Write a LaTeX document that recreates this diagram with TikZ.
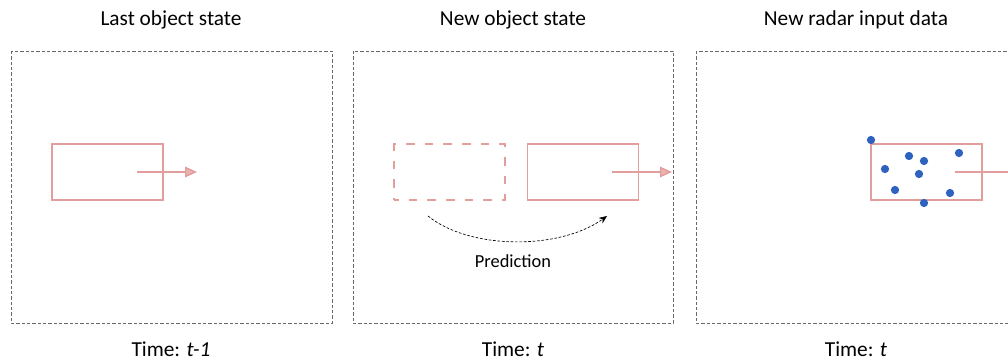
\documentclass[tikz,border=0pt]{standalone}
\usepackage{fontspec}
\setmainfont{Carlito}
\usetikzlibrary{arrows.meta,positioning}
\definecolor{BoxPink}{RGB}{226,158,156}
\definecolor{HeadPink}{RGB}{236,178,176}
\definecolor{FrameGray}{RGB}{105,105,105}
\definecolor{DotBlue}{RGB}{46,98,190}

\begin{document}
\begin{tikzpicture}[x=0.75pt,y=-0.75pt,
    frame/.style={draw=FrameGray,line width=0.6pt,dash pattern=on 2.4pt off 1.6pt},
    objbox/.style={draw=BoxPink,line width=1.1pt,inner sep=0pt,
      minimum width=83.25pt,minimum height=42pt},
    ghostbox/.style={objbox,dash pattern=on 6.5pt off 7.5pt,dash phase=3pt},
    heading/.style={font=\fontsize{16}{18}\selectfont,inner sep=0pt},
    motion/.style={draw=BoxPink,line width=1.1pt,
      -{Triangle[length=9pt,width=8pt,fill=HeadPink]}},
    radar/.style={circle,fill=DotBlue,inner sep=0pt,minimum size=6.2pt}]
  \useasboundingbox (0,0) rectangle (1008,360);
  \clip (0,0) rectangle (1008,360);

  % the three panels
  \draw[frame] (11,51) rectangle (332,323);
  \draw[frame] (353,51) rectangle (673,323);
  \draw[frame] (696,51) rectangle (1030,323);

  \node[heading] (t1) at (171,20) {Last object state};
  \node[heading] (t2) at (513,20) {New object state};
  \node[heading] (t3) at (856,20) {New radar input data};
  \node[heading,anchor=base] (c1) at (171,356) {Time: \textit{t-1}};
  \node[heading,anchor=base] (c2) at (513,356) {Time: \textit{t}};
  \node[heading,anchor=base] (c3) at (856,356) {Time: \textit{t}};

  % last state
  \node[objbox] (old) at (107.5,172) {};
  \coordinate (oldtip) at (197,172);
  \draw[motion] (old.center -| 137,0) -- (oldtip);

  % predicted state
  \node[ghostbox] (prev) at (449.5,172) {};
  \node[objbox] (pred) at (583,172) {};
  \coordinate (predtip) at (672,172);
  \draw[motion] (pred.center -| 612,0) -- (predtip);
  \coordinate (pfrom) at (428,216);
  \coordinate (pto) at (607,216);
  \draw[line width=0.5pt,dash pattern=on 2pt off 1.3pt,-{Stealth[length=6pt,width=5pt]}]
    (pfrom) .. controls (470,250) and (560,250) .. (pto);
  \node[font=\fontsize{13.8}{16}\selectfont,inner sep=0pt] (predlbl) at (513,261) {Prediction};

  % radar detections around the predicted box
  \node[objbox] (meas) at (926.5,172) {};
  \coordinate (meastip) at (1020,172);
  \draw[motion] (meas.center -| 955,0) -- (meastip);
  \foreach \x/\y [count=\i] in {871/140,909/156,924/161,959/153,885/169,
                                919/174,895/190,950/193,924/203}
    \node[radar] (d\i) at (\x,\y) {};
\end{tikzpicture}
\end{document}
